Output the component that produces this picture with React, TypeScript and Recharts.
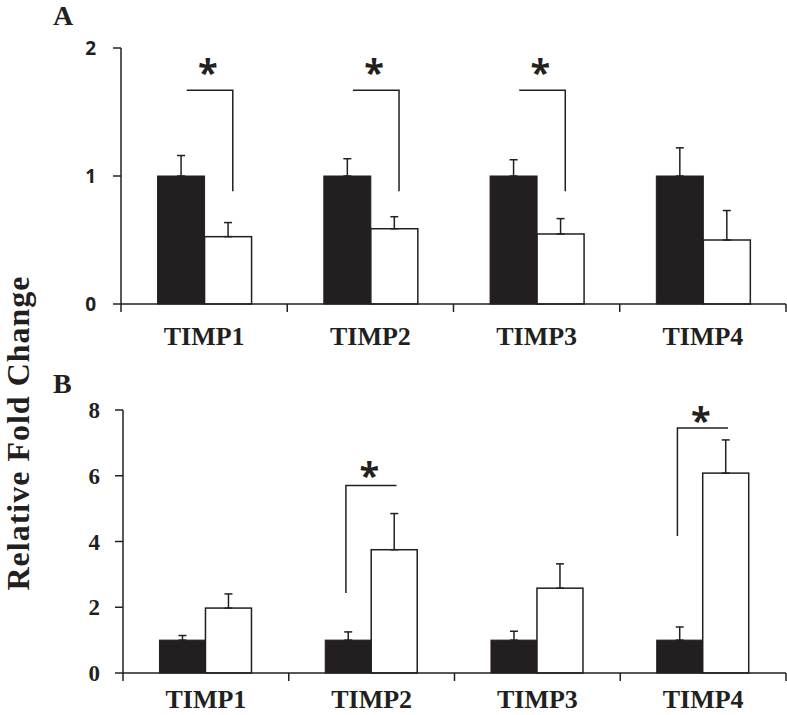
import React from 'react';
import { BarChart, Bar, XAxis, YAxis, ErrorBar } from 'recharts';

const categories = ['TIMP1', 'TIMP2', 'TIMP3', 'TIMP4'];

// Panel A
const aControl = [1, 1, 1, 1];
const aControlErr = [0.16, 0.135, 0.127, 0.22];
const aTreated = [0.526, 0.588, 0.547, 0.5];
const aTreatedErr = [0.11, 0.094, 0.12, 0.23];
const aSig = [1, 1, 1, 0];
const aBracketTop = [1.67, 1.67, 1.67, 0];
const aBracketBottom = [0.88, 0.88, 0.88, 0];
const aStar = [1.87, 1.87, 1.87, 0];
const aTicks = [0, 1, 2];

// Panel B
const bControl = [1, 1, 1, 1];
const bControlErr = [0.14, 0.25, 0.27, 0.4];
const bTreated = [1.975, 3.75, 2.58, 6.08];
const bTreatedErr = [0.43, 1.1, 0.74, 1.01];
const bSig = [0, 1, 0, 1];
const bBracketTop = [0, 5.7, 0, 7.45];
const bBracketBottom = [0, 2.43, 0, 4.17];
const bStar = [0, 6.24, 0, 7.9];
const bTicks = [0, 2, 4, 6, 8];

const INK = '#231f20';
const SERIF = '"Liberation Serif", "Times New Roman", serif';
const SANS = '"Open Sans", "Liberation Sans", sans-serif';

function build(control, controlErr, treated, treatedErr, sig, top, bottom, star, kind) {
  return categories.map((name, i) => ({
    name,
    control: control[i],
    controlErr: [0, controlErr[i]],
    treated: treated[i],
    treatedErr: [0, treatedErr[i]],
    sigFlag: sig[i],
    brTop: top[i],
    brBottom: bottom[i],
    starVal: star[i],
    kind,
  }));
}

const dataA = build(aControl, aControlErr, aTreated, aTreatedErr, aSig, aBracketTop, aBracketBottom, aStar, 'A');
const dataB = build(bControl, bControlErr, bTreated, bTreatedErr, bSig, bBracketTop, bBracketBottom, bStar, 'B');

function makeCatTick(labelDy: number) {
  return function CatTick(props: any) {
    const { x, y, payload, index, width } = props;
    const n = categories.length;
    const half = payload && typeof payload.offset === 'number' && payload.offset > 0 ? payload.offset : width / n / 2;
    return (
      <g>
        <line x1={x - half} x2={x - half} y1={y} y2={y + 8} stroke={INK} strokeWidth={1.5} />
        {index === n - 1 && (
          <line x1={x + half} x2={x + half} y1={y} y2={y + 8} stroke={INK} strokeWidth={1.5} />
        )}
        <text x={x} y={y + labelDy} textAnchor="middle" fontFamily={SERIF} fontWeight={700} fontSize={26} fill={INK}>
          {payload.value}
        </text>
      </g>
    );
  };
}

const TickA = makeCatTick(41);
const TickB = makeCatTick(35);

function ControlShape(props: any) {
  const { x, y, width, height } = props;
  return <rect x={x} y={y} width={width} height={height} fill={INK} stroke={INK} strokeWidth={1} />;
}

function TreatedShape(props: any) {
  const { x, y, width, height, payload } = props;
  const base = y + height;
  const ppu = height / payload.treated;
  const toY = (v: number) => base - v * ppu;
  const rect = <rect x={x} y={y} width={width} height={height} fill="#fff" stroke={INK} strokeWidth={1.5} />;
  if (!payload.sigFlag) return rect;
  const blackC = x - width / 2;
  const whiteC = x + width / 2;
  const yTop = toY(payload.brTop);
  const yBot = toY(payload.brBottom);
  let path = '';
  let left = blackC;
  let right = whiteC;
  if (payload.kind === 'A') {
    left = blackC + width * 0.12;
    right = whiteC + width * 0.1;
    path = `M${left},${yTop} L${right},${yTop} L${right},${yBot}`;
  } else {
    left = blackC - width * 0.05;
    right = whiteC + width * 0.05;
    path = `M${left},${yBot} L${left},${yTop} L${right},${yTop}`;
  }
  const starY = toY(payload.starVal);
  return (
    <g>
      {rect}
      <path d={path} fill="none" stroke={INK} strokeWidth={1.5} />
      <text x={(left + right) / 2 - 2} y={starY + 20} textAnchor="middle" fontFamily={SANS} fontWeight={700} fontSize={36} fill={INK}>
        *
      </text>
    </g>
  );
}

function Panel({ data, ticks, height, margin, yWidth, tickMargin, tickFont, Tick }: any) {
  return (
    <BarChart width={787} height={height} data={data} margin={margin} barCategoryGap="22%" barGap={0}>
      <XAxis
        dataKey="name"
        interval={0}
        tickLine={false}
        tickSize={0}
        tickMargin={0}
        height={40}
        axisLine={{ stroke: INK, strokeWidth: 1.5 }}
        tick={(p: any) => <Tick {...p} />}
      />
      <YAxis
        domain={[ticks[0], ticks[ticks.length - 1]]}
        ticks={ticks}
        interval={0}
        width={yWidth}
        tickSize={8}
        tickMargin={tickMargin}
        axisLine={{ stroke: INK, strokeWidth: 1.5 }}
        tickLine={{ stroke: INK, strokeWidth: 1.5 }}
        tick={tickFont}
      />
      <Bar dataKey="control" fill={INK} isAnimationActive={false} shape={(p: any) => <ControlShape {...p} />}>
        <ErrorBar dataKey="controlErr" direction="y" width={4} stroke={INK} strokeWidth={1.5} />
      </Bar>
      <Bar dataKey="treated" fill="#fff" isAnimationActive={false} shape={(p: any) => <TreatedShape {...p} />}>
        <ErrorBar dataKey="treatedErr" direction="y" width={4} stroke={INK} strokeWidth={1.5} />
      </Bar>
    </BarChart>
  );
}

export default function App() {
  return (
    <div style={{ position: 'absolute', left: 0, top: 0, width: 787, height: 715, background: '#fff' }}>
      <div style={{ position: 'absolute', left: 0, top: 0 }}>
        <Panel
          data={dataA}
          ticks={aTicks}
          height={360}
          margin={{ top: 48, right: 1, bottom: 16, left: 61 }}
          yWidth={60}
          tickMargin={17}
          tickFont={{ fontFamily: SANS, fontWeight: 700, fontSize: 19, fill: INK }}
          Tick={TickA}
        />
      </div>
      <div style={{ position: 'absolute', left: 0, top: 360 }}>
        <Panel
          data={dataB}
          ticks={bTicks}
          height={355}
          margin={{ top: 50, right: 1, bottom: 2, left: 63 }}
          yWidth={60}
          tickMargin={15}
          tickFont={{ fontFamily: SERIF, fontWeight: 700, fontSize: 23, fill: INK }}
          Tick={TickB}
        />
      </div>
      <svg width={787} height={715} style={{ position: 'absolute', left: 0, top: 0, pointerEvents: 'none' }}>
        <text x={53} y={25} fontFamily={SERIF} fontWeight={700} fontSize={28} fill={INK}>A</text>
        <text x={53} y={393} fontFamily={SERIF} fontWeight={700} fontSize={28} fill={INK}>B</text>
        <text
          transform="translate(29,433) rotate(-90)"
          textAnchor="middle"
          fontFamily={SERIF}
          fontWeight={700}
          fontSize={32}
          letterSpacing={1}
          fill={INK}
        >
          Relative Fold Change
        </text>
      </svg>
    </div>
  );
}
